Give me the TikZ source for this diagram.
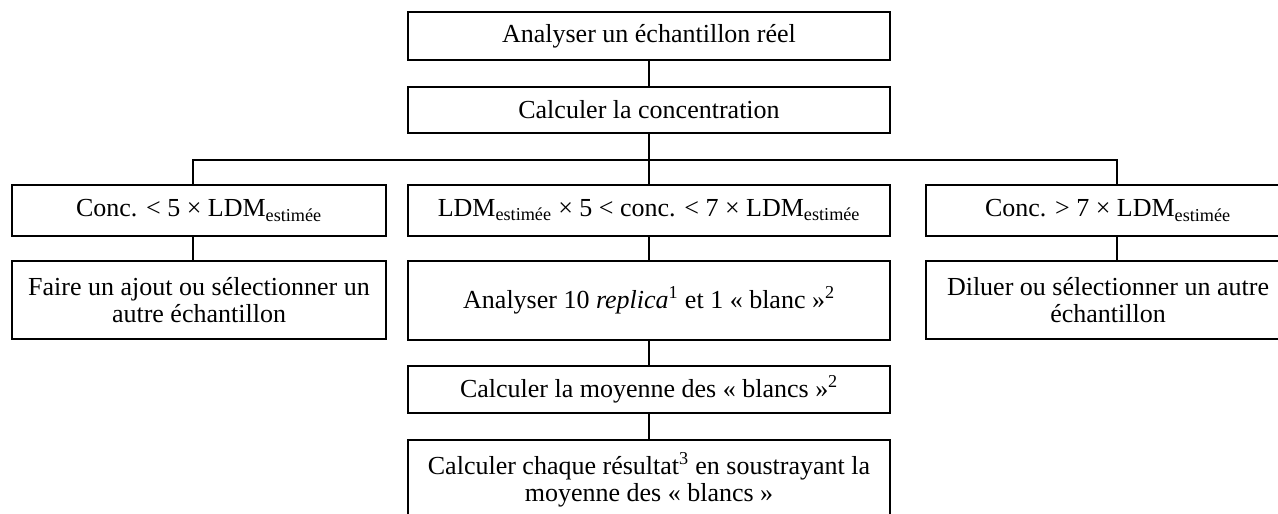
\documentclass[tikz,border=0pt]{standalone}
\usepackage{fontspec}
\setmainfont{Liberation Serif}
\begin{document}
\begin{tikzpicture}[x=0.75pt,y=-0.75pt,
  box/.style={draw, line width=1.5pt, inner sep=0pt, align=center,
    font=\fontsize{19.5}{20}\selectfont},
  conn/.style={line width=1.5pt}]
\useasboundingbox (0,0) rectangle (1278,514);
% top chain
\node[box, minimum width=361.5pt, minimum height=36pt] (A) at (649,36) {Analyser un échantillon réel};
\node[box, minimum width=361.5pt, minimum height=34.5pt] (B) at (649,110) {Calculer la concentration};
% conditions
\node[box, minimum width=280.5pt, minimum height=38.25pt] (C1) at (199,210.5)
  {Conc. < 5 × LDM\textsubscript{estimée}};
\node[box, minimum width=361.5pt, minimum height=38.25pt] (C2) at (649,210.5)
  {LDM\textsubscript{estimée} × 5 < conc. < 7 × LDM\textsubscript{estimée}};
\node[box, minimum width=273pt, minimum height=38.25pt] (C3) at (1108,210.5)
  {Conc. > 7 × LDM\textsubscript{estimée}};
% actions
\node[box, minimum width=280.5pt, minimum height=58.5pt] (D1) at (199,300)
  {Faire un ajout ou sélectionner un\\autre échantillon};
\node[box, minimum width=361.5pt, minimum height=59.25pt] (D2) at (649,300.5)
  {Analyser 10 \textit{replica}\textsuperscript{1} et 1 «~blanc~»\textsuperscript{2}};
\node[box, minimum width=273pt, minimum height=58.5pt] (D3) at (1108,300)
  {Diluer ou sélectionner un autre\\échantillon};
\node[box, minimum width=361.5pt, minimum height=35.25pt] (E) at (649,389.5)
  {Calculer la moyenne des «~blancs~»\textsuperscript{2}};
\node[box, minimum width=361.5pt, minimum height=75pt] (F) at (649,490)
  {Calculer chaque résultat\textsuperscript{3} en soustrayant la\\moyenne des «~blancs~»\\\mbox{}};
% connectors
\coordinate (bl) at (193,160);
\coordinate (bm) at (649,160);
\coordinate (br) at (1117,160);
\draw[conn] (A) -- (B);
\draw[conn] (B) -- (bm);
\draw[conn] (bl |- C1.north) -- (bl) -- (br) -- (br |- C3.north);
\draw[conn] (bm) -- (C2);
\draw[conn] (C1.south -| bl) -- (D1.north -| bl);
\draw[conn] (C2) -- (D2);
\draw[conn] (C3.south -| br) -- (D3.north -| br);
\draw[conn] (D2) -- (E);
\draw[conn] (E) -- (F);
\end{tikzpicture}
\end{document}
